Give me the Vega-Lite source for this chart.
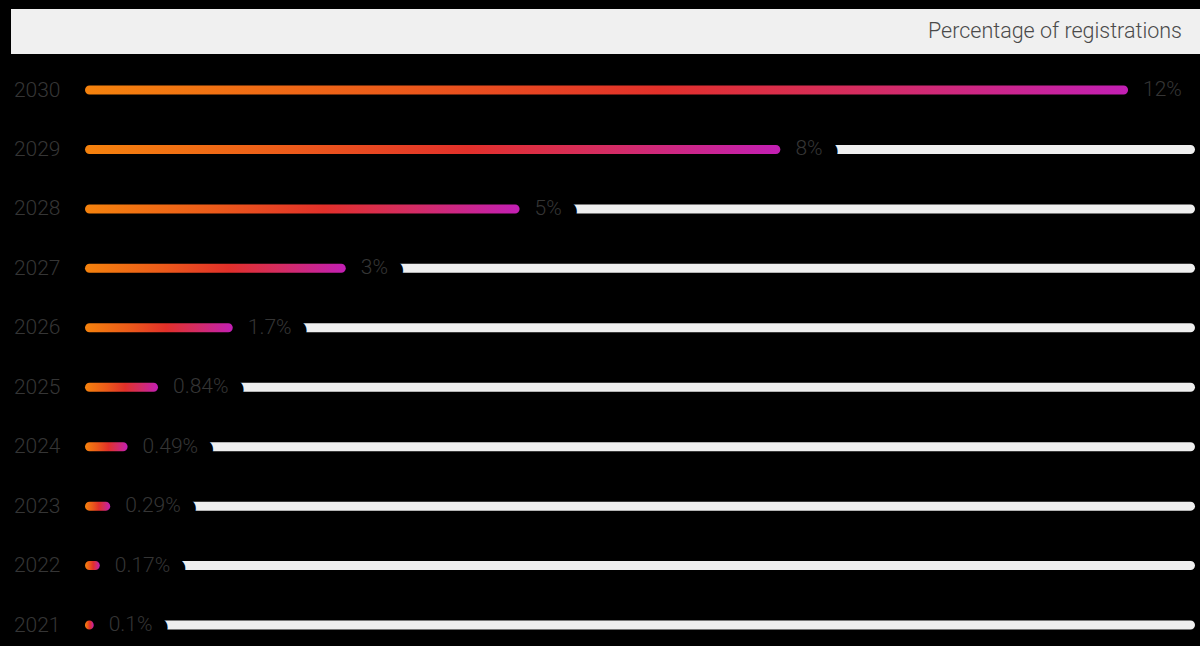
{
  "$schema": "https://vega.github.io/schema/vega-lite/v6.json",
  "background": "#000000",
  "padding": {"left": 11, "top": 9, "right": 0, "bottom": 0},
  "autosize": {"type": "pad"},
  "spacing": 6,
  "config": {
    "font": "Roboto",
    "view": {"stroke": null}
  },
  "datasets": {
    "rows": [
      {"year": 2030, "pct": 12, "label": "12%"},
      {"year": 2029, "pct": 8, "label": "8%"},
      {"year": 2028, "pct": 5, "label": "5%"},
      {"year": 2027, "pct": 3, "label": "3%"},
      {"year": 2026, "pct": 1.7, "label": "1.7%"},
      {"year": 2025, "pct": 0.84, "label": "0.84%"},
      {"year": 2024, "pct": 0.49, "label": "0.49%"},
      {"year": 2023, "pct": 0.29, "label": "0.29%"},
      {"year": 2022, "pct": 0.17, "label": "0.17%"},
      {"year": 2021, "pct": 0.1, "label": "0.1%"}
    ],
    "header": [{"title": "Percentage of registrations"}]
  },
  "vconcat": [
    {
      "width": 1189,
      "height": 45,
      "view": {"fill": "#f0f0f0", "stroke": null},
      "data": {"name": "header"},
      "mark": {"type": "text", "align": "right", "baseline": "middle", "dx": -18, "fontSize": 21.5, "fontWeight": 300, "color": "#4a4a4a"},
      "encoding": {
        "x": {"value": "width"},
        "text": {"field": "title"}
      }
    },
    {
      "width": 1184,
      "height": 586,
      "data": {"name": "rows"},
      "encoding": {
        "y": {
          "field": "year",
          "type": "quantitative",
          "scale": {"domain": [2020.647, 2030.505], "nice": false, "zero": false, "padding": 0},
          "axis": {
            "values": [2021, 2022, 2023, 2024, 2025, 2026, 2027, 2028, 2029, 2030],
            "format": "d",
            "title": null,
            "domain": false,
            "ticks": false,
            "grid": false,
            "offset": -74,
            "labelFontSize": 21,
            "labelFontWeight": 300,
            "labelColor": "#353535",
            "labelPadding": 25,
            "minExtent": 0,
            "maxExtent": 0
          }
        },
        "x": {"field": "pct", "type": "quantitative", "scale": {"domain": [0, 12.77], "nice": false, "padding": 0, "rangeMin": 74}, "axis": null}
      },
      "layer": [
        {
          "mark": {"type": "bar", "orient": "horizontal", "height": 9, "cornerRadius": 4.5, "color": "#efefef", "xOffset": 20},
          "encoding": {
            "x2": {"datum": 12.77}
          }
        },
        {
          "mark": {"type": "text", "align": "left", "baseline": "middle", "dx": 15, "fontSize": 21, "fontWeight": 300, "fill": "#000000", "stroke": "#000000", "strokeWidth": 12, "strokeJoin": "round"},
          "encoding": {"text": {"field": "label"}}
        },
        {
          "mark": {"type": "text", "align": "left", "baseline": "middle", "dx": 20, "fontSize": 21, "fontWeight": 300, "fill": "#000000", "stroke": "#000000", "strokeWidth": 12, "strokeJoin": "round"},
          "encoding": {"text": {"field": "label"}}
        },
        {
          "mark": {"type": "text", "align": "left", "baseline": "middle", "dx": 25, "fontSize": 21, "fontWeight": 300, "fill": "#000000", "stroke": "#000000", "strokeWidth": 12, "strokeJoin": "round"},
          "encoding": {"text": {"field": "label"}}
        },
        {
          "mark": {
            "type": "bar",
            "orient": "horizontal",
            "height": 9,
            "cornerRadius": 4.5,
            "color": {
              "gradient": "linear",
              "x1": 0, "y1": 0, "x2": 1, "y2": 0,
              "stops": [
                {"offset": 0, "color": "#f5820d"},
                {"offset": 0.3, "color": "#ec5a1a"},
                {"offset": 0.55, "color": "#e2302a"},
                {"offset": 0.75, "color": "#d42c62"},
                {"offset": 1, "color": "#c21fb4"}
              ]
            }
          },
          "encoding": {
            "x2": {"datum": 0}
          }
        },
        {
          "mark": {"type": "text", "align": "left", "baseline": "middle", "dx": 15, "fontSize": 21, "fontWeight": 300, "color": "#353535"},
          "encoding": {"text": {"field": "label"}}
        }
      ]
    }
  ]
}
